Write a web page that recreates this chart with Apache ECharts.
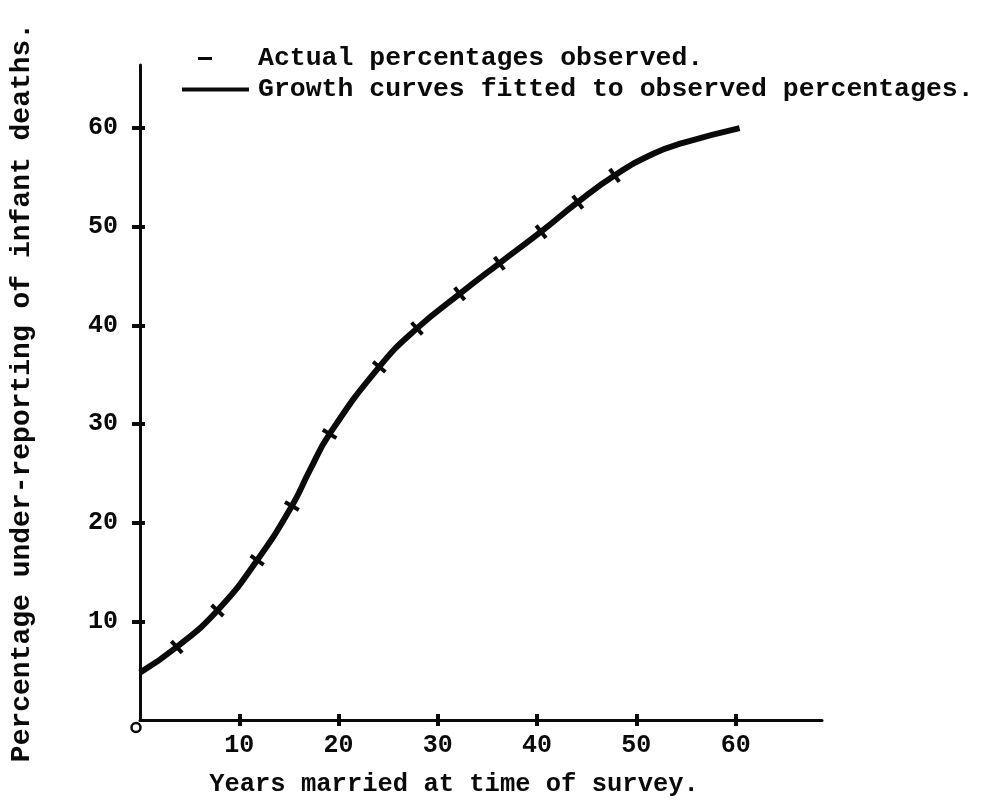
<!DOCTYPE html>
<html>
<head>
<meta charset="utf-8">
<script src="https://cdn.jsdelivr.net/npm/echarts@6/dist/echarts.min.js"></script>
<style>
html, body { margin: 0; background: #fff; }
#chart { width: 981px; height: 802px; }
</style>
</head>
<body>
<div id="chart"></div>
<script>
// observed percentages (the little dashes on the curve)
var obsYears = [3.7, 7.8, 11.8, 15.3, 19.1, 24.1, 27.9, 32.2, 36.2, 40.4, 44.1, 47.8];
var obsPercent = [7.4, 11.1, 16.2, 21.7, 29.0, 35.8, 39.7, 43.2, 46.3, 49.5, 52.5, 55.2];

// fitted growth curve
var curveYears = [0, 3.7, 7.8, 11.8, 15.3, 17.1, 19.1, 24.1, 27.9, 32.2, 36.2, 40.4, 44.1, 47.8, 51.7, 54.7, 60.4];
var curvePercent = [4.8, 7.4, 11.1, 16.2, 21.7, 25.3, 29.0, 35.8, 39.7, 43.2, 46.3, 49.5, 52.5, 55.2, 57.4, 58.5, 60.0];

var tickValues = [10, 20, 30, 40, 50, 60];

var font = 'Liberation Mono';
var ink = '#0a0a0a';

var chart = echarts.init(document.getElementById('chart'));

function pairs(xs, ys) {
    var out = [];
    for (var i = 0; i < xs.length; i++) {
        out.push([xs[i], ys[i]]);
    }
    return out;
}

// dash angle follows the slope of the curve at each observation
function dashAngle(i) {
    var a = Math.max(i - 1, 0);
    var b = Math.min(i + 1, obsYears.length - 1);
    var slope = (obsPercent[b] - obsPercent[a]) / (obsYears[b] - obsYears[a]);
    return Math.atan(slope) * 180 / Math.PI;
}

var obsData = [];
for (var i = 0; i < obsYears.length; i++) {
    obsData.push({ value: [obsYears[i], obsPercent[i]], symbolRotate: dashAngle(i) });
}

option = {
    backgroundColor: '#fff',
    animation: false,
    grid: { left: 140, top: 65, right: 159, bottom: 82, outerBoundsMode: 'none', containLabel: false },
    legend: [{
        data: ['Actual percentages observed.'],
        left: 193,
        top: 40,
        icon: 'rect',
        itemWidth: 14,
        itemHeight: 3,
        symbolRotate: 0,
        textStyle: { fontFamily: font, fontSize: 26.5, fontWeight: 'bold', color: ink, padding: [0, 0, 0, 41] }
    }, {
        data: ['Growth curves fitted to observed percentages.'],
        left: 177,
        top: 71,
        icon: 'rect',
        itemWidth: 67,
        itemHeight: 4,
        textStyle: { fontFamily: font, fontSize: 26.5, fontWeight: 'bold', color: ink, padding: [0, 0, 0, 4] }
    }],
    xAxis: [{
        type: 'value',
        min: 0,
        max: 68.7,
        name: 'Years married at time of survey.',
        nameLocation: 'middle',
        nameGap: 52,
        nameTextStyle: { fontFamily: font, fontSize: 25.5, fontWeight: 'bold', color: ink, padding: [0, 54, 0, 0] },
        axisLine: { lineStyle: { color: ink, width: 3 } },
        axisTick: { show: true, length: 6, customValues: tickValues, lineStyle: { color: ink, width: 4 } },
        axisLabel: { customValues: tickValues, margin: 13, fontFamily: font, fontSize: 25, fontWeight: 'bold', color: ink },
        splitLine: { show: false }
    }, {
        type: 'value',
        min: 0,
        max: 68.7,
        position: 'bottom',
        axisLine: { show: false },
        axisTick: { show: true, inside: true, length: 6, customValues: tickValues, lineStyle: { color: ink, width: 4 } },
        axisLabel: {
            customValues: [0],
            margin: 3,
            formatter: function () { return '{o|}'; },
            rich: { o: { width: 9, height: 9, borderWidth: 2.5, borderColor: ink, borderRadius: 7 } },
            padding: [0, 8, 0, 0]
        },
        splitLine: { show: false }
    }],
    yAxis: [{
        type: 'value',
        min: 0,
        max: 66.4,
        name: 'Percentage under-reporting of infant deaths.',
        nameLocation: 'middle',
        nameGap: 104,
        nameTextStyle: { fontFamily: font, fontSize: 28, fontWeight: 'bold', color: ink },
        axisLine: { lineStyle: { color: ink, width: 3 } },
        axisTick: { show: true, length: 8, customValues: tickValues, lineStyle: { color: ink, width: 4 } },
        axisLabel: { customValues: tickValues, margin: 22, fontFamily: font, fontSize: 25, fontWeight: 'bold', color: ink },
        splitLine: { show: false }
    }, {
        type: 'value',
        min: 0,
        max: 66.4,
        position: 'left',
        axisLine: { show: false },
        axisTick: { show: true, inside: true, length: 5, customValues: tickValues, lineStyle: { color: ink, width: 4 } },
        axisLabel: { show: false },
        splitLine: { show: false }
    }],
    series: [{
        name: 'Growth curves fitted to observed percentages.',
        type: 'line',
        data: pairs(curveYears, curvePercent),
        smooth: 0.5,
        showSymbol: false,
        symbol: 'none',
        itemStyle: { color: ink },
        lineStyle: { color: ink, width: 6 },
        z: 2
    }, {
        name: 'Actual percentages observed.',
        type: 'scatter',
        data: obsData,
        symbol: 'rect',
        symbolSize: [4, 16],
        itemStyle: { color: ink, opacity: 1 },
        z: 3
    }]
};

chart.setOption(option);
</script>
</body>
</html>
